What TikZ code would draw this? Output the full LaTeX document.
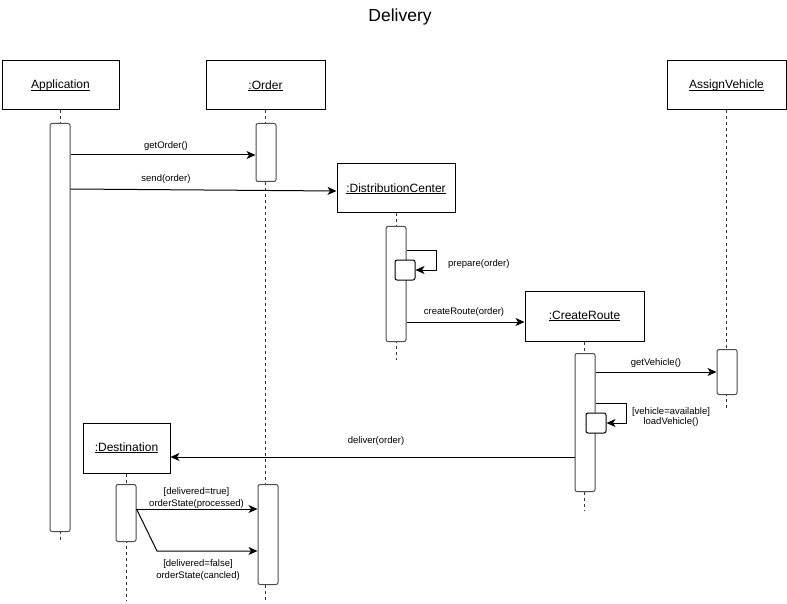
\documentclass[tikz,border=0pt]{standalone}
\usepackage{fontspec}
\setmainfont{Liberation Sans}
\usetikzlibrary{arrows.meta}
% underline at a fixed distance below the baseline, through descenders
\newcommand\objname[1]{\setbox0\hbox{#1}\rlap{\rule[-1.6pt]{\wd0}{0.7pt}}\box0}
\begin{document}
\begin{tikzpicture}[x=1pt,y=-1pt,
  obj/.style={draw=black, line width=1pt, fill=white, minimum width=#1,
    minimum height=49pt, inner sep=0pt, font=\fontsize{12}{14}\selectfont},
  obj/.default=119pt,
  bar/.style={draw=black!70, line width=1pt, fill=white, rounded corners=2pt,
    minimum width=20pt, minimum height=#1, inner sep=0pt, anchor=north},
  selfbox/.style={draw=black, line width=1pt, fill=white, rounded corners=2pt,
    minimum width=20pt, minimum height=20pt, inner sep=0pt},
  life/.style={draw=black!80, line width=1pt, dash pattern=on 3pt off 3pt},
  msg/.style={line width=1pt, -{Stealth[length=9pt,width=8pt,inset=2.5pt]}},
  lbl/.style={font=\fontsize{9.5}{12.5}\selectfont, inner sep=0pt, align=center},
]
\useasboundingbox[fill=white] (0,0) rectangle (787,604);

% title
\node[font=\fontsize{17.5}{20}\selectfont] (title) at (400,16.5) {Delivery};

% objects
\node[obj=117pt] (app) at (60.5,85.5) {\objname{Application}};
\node[obj] (ord) at (265.5,85.5) {\objname{:Order}};
\node[obj=118pt] (dc) at (396,188.5) {\objname{:DistributionCenter}};
\node[obj, minimum height=50pt] (cr) at (584.5,316) {\objname{:CreateRoute}};
\node[obj] (av) at (726.5,85.5) {\objname{AssignVehicle}};
\node[obj=87pt, minimum height=50pt] (dest) at (126.5,448) {\objname{:Destination}};

% lifelines
\draw[life] (app.south) -- (app.south |- 0,540);
\draw[life] (ord.south) -- (ord.south |- 0,600);
\draw[life] (dc.south) -- (dc.south |- 0,360);
\draw[life] (cr.south) -- (cr.south |- 0,511);
\draw[life] (av.south) -- (av.south |- 0,410);
\draw[life] (dest.south) -- (dest.south |- 0,600);

% activation bars
\node[bar=408pt] (appbar) at (60,123) {};
\node[bar=58pt] (ordbar1) at (266,123) {};
\node[bar=100pt] (ordbar2) at (268,484) {};
\node[bar=115pt] (dcbar) at (396,226) {};
\node[bar=138pt] (crbar) at (585,353) {};
\node[bar=45pt] (avbar) at (727,349) {};
\node[bar=57pt] (destbar) at (126,484) {};

% self-call activations
\node[selfbox] (prep) at (405,270) {};
\node[selfbox] (load) at (596,423) {};

% messages
\draw[msg] (appbar.east |- 0,155) -- (ordbar1.west |- 0,155);
\node[lbl] (l1) at (166,146) {getOrder()};

\draw[msg] (appbar.east |- 0,189) -- (dc.west |- 0,191);
\node[lbl] (l2) at (166,179) {send(order)};

\draw[msg] (dcbar.east |- 0,250) -- ++(30,0) |- (prep.east);
\node[lbl, anchor=west] (l3) at (448,264) {prepare(order)};

\draw[msg] (dcbar.east |- 0,322) -- (cr.west |- 0,322);
\node[lbl] (l4) at (464,312) {createRoute(order)};

\draw[msg] (crbar.east |- 0,372) -- (avbar.west |- 0,372);
\node[lbl] (l5) at (656,363) {getVehicle()};

\draw[msg] (crbar.east |- 0,403) -- ++(31,0) |- (load.east);
\node[lbl, font=\fontsize{9.5}{10.5}\selectfont] (l6) at (671,417) {[vehicle=available]\\loadVehicle()};

\draw[msg] (crbar.west |- 0,457) -- (dest.east |- 0,457);
\node[lbl] (l7) at (376,441) {deliver(order)};

\coordinate (split) at (destbar.east |- 0,509);
\draw[msg] (split) -- (ordbar2.west |- 0,509);
\node[lbl] (l8) at (196.5,498) {[delivered=true]\\orderState(processed)};

\coordinate (bend) at (157,551);
\draw[msg] (split) -- (bend) -- (ordbar2.west |- bend);
\node[lbl] (l9) at (198,570) {[delivered=false]\\orderState(cancled)};
\end{tikzpicture}
\end{document}
